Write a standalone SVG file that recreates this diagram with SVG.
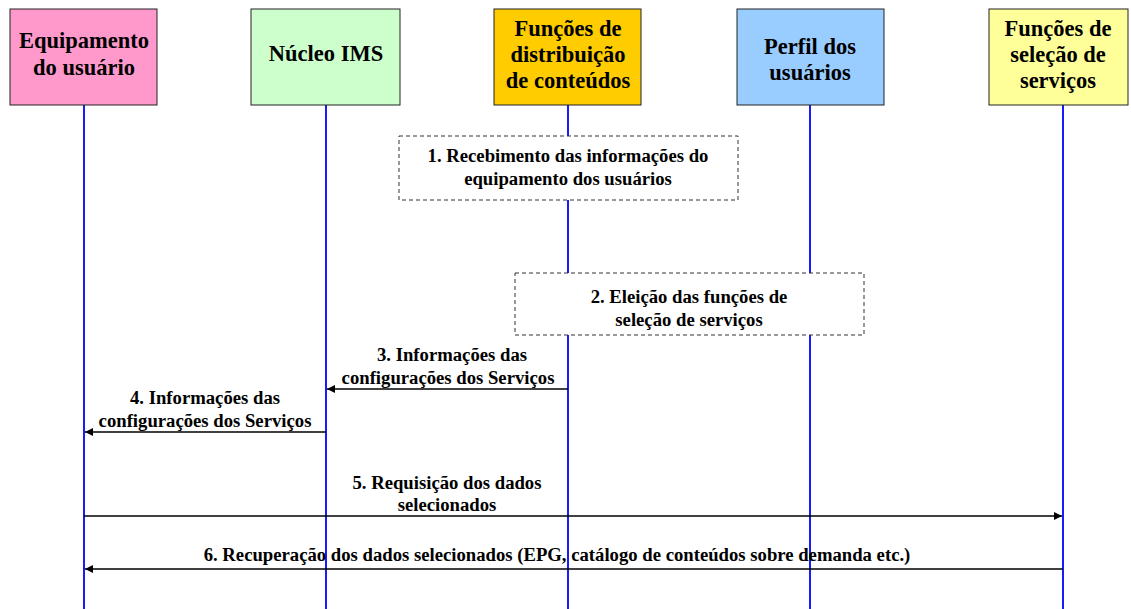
<svg xmlns="http://www.w3.org/2000/svg" width="1131" height="609" viewBox="0 0 1131 609">
<defs>
<style>
.box{stroke:#222;stroke-width:1}
.t{font-family:'Liberation Serif','DejaVu Serif','Times New Roman',serif;font-weight:bold;fill:#000;text-anchor:middle}
.h{font-size:22.5px}
.m{font-size:18.7px}
.life{stroke:#1a1aff;stroke-width:2}
.note{fill:#fff;stroke:#333;stroke-width:1;stroke-dasharray:4,3}
.msg{stroke:#000;stroke-width:1.5;fill:none;marker-end:url(#ah)}
</style>
<marker id="ah" viewBox="0 0 10 10" refX="10" refY="5" markerWidth="8" markerHeight="8" markerUnits="userSpaceOnUse" orient="auto">
<path d="M0,0 L10,5 L0,10 z" fill="#000"/>
</marker>
</defs>
<rect width="1131" height="609" fill="#fff"/>
<g id="lifelines">
<line class="life" x1="84" y1="105" x2="84" y2="609"/>
<line class="life" x1="326" y1="105" x2="326" y2="609"/>
<line class="life" x1="568" y1="105" x2="568" y2="609"/>
<line class="life" x1="810" y1="105" x2="810" y2="609"/>
<line class="life" x1="1063" y1="105" x2="1063" y2="609"/>
</g>
<g id="n1"><rect class="box" x="10" y="9" width="147" height="96" fill="#ff99cc"/>
<text class="t h" x="84" y="48">Equipamento</text><text class="t h" x="84" y="75">do usuário</text></g>
<g id="n2"><rect class="box" x="251" y="9" width="149" height="96" fill="#ccffcc"/>
<text class="t h" x="326" y="61">Núcleo IMS</text></g>
<g id="n3"><rect class="box" x="494" y="9" width="147" height="96" fill="#ffcc00"/>
<text class="t h" x="568" y="36">Funções de</text><text class="t h" x="568" y="62">distribuição</text><text class="t h" x="568" y="88">de conteúdos</text></g>
<g id="n4"><rect class="box" x="737" y="9" width="147" height="96" fill="#99ccff"/>
<text class="t h" x="810" y="54">Perfil dos</text><text class="t h" x="810" y="80">usuários</text></g>
<g id="n5"><rect class="box" x="989" y="9" width="139" height="96" fill="#ffff99"/>
<text class="t h" x="1058" y="36">Funções de</text><text class="t h" x="1058" y="62">seleção de</text><text class="t h" x="1058" y="88">serviços</text></g>
<g id="note1"><rect class="note" x="399" y="136" width="339" height="64"/>
<text class="t m" x="568" y="162">1. Recebimento das informações do</text><text class="t m" x="568" y="185">equipamento dos usuários</text></g>
<g id="note2"><rect class="note" x="515" y="273" width="349" height="62"/>
<text class="t m" x="689" y="303">2. Eleição das funções de</text><text class="t m" x="689" y="326">seleção de serviços</text></g>
<g id="connectors">
<line class="msg" x1="568" y1="389" x2="327" y2="389"/>
<line class="msg" x1="326" y1="432" x2="85" y2="432"/>
<line class="msg" x1="84" y1="516" x2="1062" y2="516"/>
<line class="msg" x1="1063" y1="569" x2="85" y2="569"/>
</g>
<g id="labels">
<text class="t m" x="452" y="361">3. Informações das</text><text class="t m" x="448" y="384">configurações dos Serviços</text>
<text class="t m" x="205" y="404">4. Informações das</text><text class="t m" x="205" y="427">configurações dos Serviços</text>
<text class="t m" x="447" y="489">5. Requisição dos dados</text><text class="t m" x="447" y="511">selecionados</text>
<text class="t m" x="557" y="561">6. Recuperação dos dados selecionados (EPG, catálogo de conteúdos sobre demanda etc.)</text>
</g>
</svg>
